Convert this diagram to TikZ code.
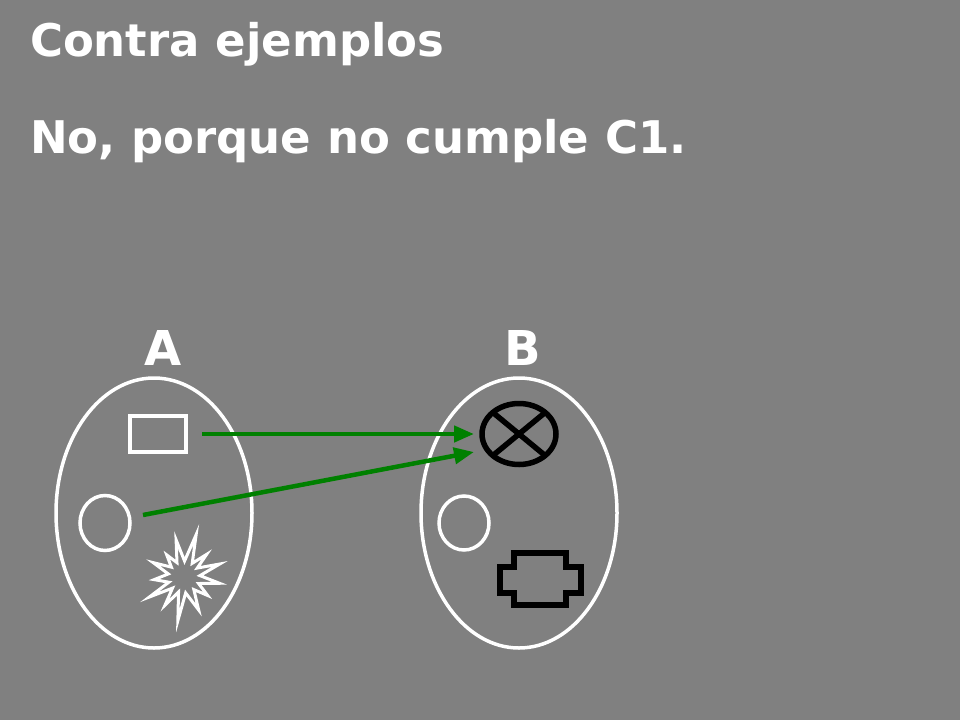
\documentclass[tikz,border=0pt]{standalone}
\usepackage{fontspec}
\setmainfont{DejaVu Sans}
\usetikzlibrary{shapes.geometric,arrows.meta}
\definecolor{slide}{RGB}{128,128,128}
\definecolor{flecha}{RGB}{0,128,0}

\tikzset{
  every node/.style={inner sep=0pt,outer sep=0pt},
  texto/.style={anchor=base west,text=white,font=\bfseries\fontsize{45}{52}\selectfont},
  letra/.style={anchor=base,text=white,font=\bfseries\fontsize{48}{54}\selectfont},
  conj/.style={ellipse,draw=white,line width=3.5pt,minimum width=196pt,minimum height=270pt},
  blanco/.style={draw=white,line width=3.5pt},
  negro/.style={draw=black,line width=5.5pt},
  aplica/.style={draw=flecha,line width=4.5pt,-{Triangle[length=20pt,width=16pt]}}
}

\begin{document}
\begin{tikzpicture}[x=1pt,y=-1pt]
      \fill[slide] (0,0) rectangle (960,720);

      \node [texto] (t1) at (30,56) {Contra ejemplos};
      \node [texto] (t2) at (30,153) {No, porque no cumple C1.};

      \node [letra] (lA) at (163,365) {A};
      \node [letra] (lB) at (523,365) {B};

      \node [conj] (A) at (154,513) {};
      \node [conj] (B) at (519,513) {};

      % elementos de A
      \node [blanco,rectangle,minimum width=56pt,minimum height=36pt] (ra) at (158,434) {};
      \node [blanco,ellipse,minimum width=50pt,minimum height=55pt] (ca) at (105,523) {};
      \begin{scope}[shift={(184,577)}]
        \draw [white,line width=3pt,line join=miter] (10:36)
          \foreach \a/\r in {38/30,66/36,98/44,124/34,150/40,175/30,205/34,232/28,258/38,286/44,315/32,340/38}
            { -- (\a-14:16) -- (\a:\r) } -- (355:16) -- cycle;
      \end{scope}

      % elementos de B
      \node [negro,ellipse,minimum width=74pt,minimum height=61pt] (xb) at (519,434) {};
      \draw [black,line width=5.5pt] (xb.north east) -- (xb.south west)
                                     (xb.north west) -- (xb.south east);
      \node [blanco,ellipse,minimum width=50pt,minimum height=54pt] (cb) at (464,523) {};
      \draw [black,line width=5.5pt,line join=miter]
        (514,553) -- (566,553) -- (566,567) -- (581,567) -- (581,593) -- (566,593)
        -- (566,605) -- (514,605) -- (514,593) -- (500,593) -- (500,567) -- (514,567) -- cycle;

      \coordinate (s1) at ([xshift=16pt]ra.east);
      \coordinate (s2) at ([shift={(13pt,8pt)}]ca.east);
      \coordinate (e1) at ([xshift=-8pt]xb.west);
      \coordinate (e2) at ([shift={(-8pt,-18pt)}]xb.west);

      \foreach \from/\to in {s1/e1,s2/e2}
        \draw [aplica] (\from) -- (\to);
    \end{tikzpicture}
\end{document}
